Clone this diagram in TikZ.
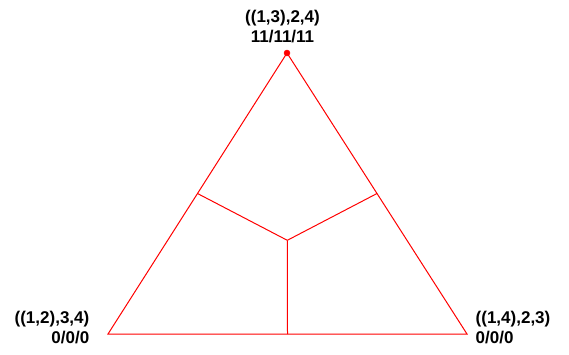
\documentclass[tikz,border=0pt]{standalone}
\usepackage{fontspec}
\setmainfont{Liberation Sans}
\begin{document}
\begin{tikzpicture}[x=1pt,y=-1pt,
    edge/.style={red,line width=1pt},
    lbl/.style={font=\bfseries\fontsize{17}{19.5}\selectfont,inner sep=0pt}]
\useasboundingbox (0,0) rectangle (569,354);
\coordinate (T)  at (287,53);
\coordinate (L)  at (108,334);
\coordinate (R)  at (467,334);
\coordinate (ML) at (197.5,193.5);
\coordinate (MR) at (377,193.5);
\coordinate (MB) at (287.5,334);
\coordinate (G)  at (287.3,240.3);

\draw[edge] (T)--(L)--(R)--cycle;
\foreach \p in {ML,MR,MB}
{
    \draw[edge] (G)--(\p);
}
\filldraw[red] (T) circle (3pt);

\node[lbl,anchor=south,align=center] (topLbl) at (282.5,43) {((1,3),2,4)\\11/11/11};
\node[lbl,anchor=south east,align=right] (leftLbl) at (89.5,344) {((1,2),3,4)\\0/0/0};
\node[lbl,anchor=south west,align=left] (rightLbl) at (475.5,344) {((1,4),2,3)\\0/0/0};
\end{tikzpicture}
\end{document}
